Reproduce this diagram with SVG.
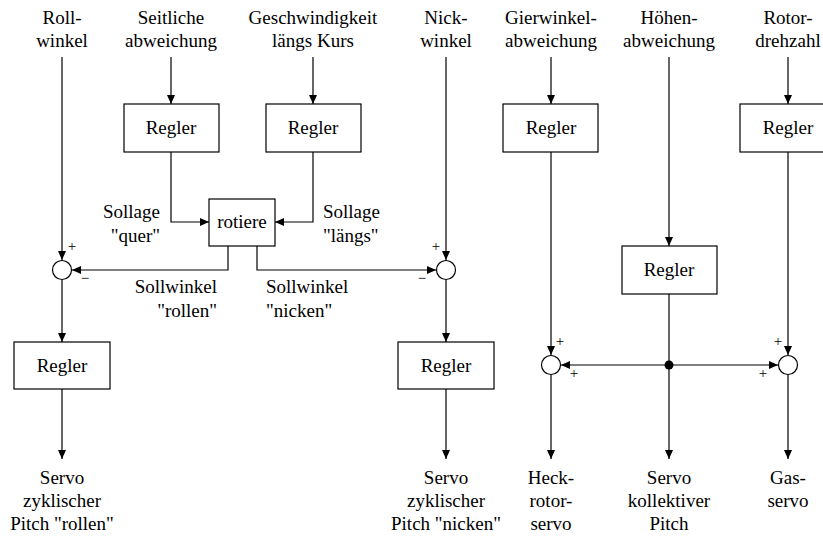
<svg xmlns="http://www.w3.org/2000/svg" width="823" height="536" viewBox="0 0 823 536">
<style>
text{font-family:"Liberation Serif","Times New Roman",serif;font-size:19px;fill:#000}
.c{text-anchor:middle}
.e{text-anchor:end}
.s{font-size:15px;text-anchor:middle}
.box{fill:#fff;stroke:#000;stroke-width:1.2}
.sum{fill:#fff;stroke:#000;stroke-width:1.2}
.ln{fill:none;stroke:#000;stroke-width:1.2}
</style>
<defs>
<marker id="arr" markerUnits="userSpaceOnUse" markerWidth="9" markerHeight="8" refX="9" refY="4" orient="auto">
<path d="M0,0 L9,4 L0,8 z" fill="#000"/>
</marker>
</defs>
<rect width="823" height="536" fill="#fff"/>

<g id="connectors">
<path class="ln" d="M62,57 V260" marker-end="url(#arr)"/>
<path class="ln" d="M171,57 V104" marker-end="url(#arr)"/>
<path class="ln" d="M313,57 V104" marker-end="url(#arr)"/>
<path class="ln" d="M446,57 V260" marker-end="url(#arr)"/>
<path class="ln" d="M551,57 V104" marker-end="url(#arr)"/>
<path class="ln" d="M669,57 V246" marker-end="url(#arr)"/>
<path class="ln" d="M788,57 V104" marker-end="url(#arr)"/>
<path class="ln" d="M171,152 V222 H209" marker-end="url(#arr)"/>
<path class="ln" d="M313,152 V222 H275" marker-end="url(#arr)"/>
<path class="ln" d="M228,246 V270 H72" marker-end="url(#arr)"/>
<path class="ln" d="M257,246 V270 H436" marker-end="url(#arr)"/>
<path class="ln" d="M62,280 V342" marker-end="url(#arr)"/>
<path class="ln" d="M446,280 V342" marker-end="url(#arr)"/>
<path class="ln" d="M62,389 V459" marker-end="url(#arr)"/>
<path class="ln" d="M446,389 V459" marker-end="url(#arr)"/>
<path class="ln" d="M551,152 V355" marker-end="url(#arr)"/>
<path class="ln" d="M788,152 V355" marker-end="url(#arr)"/>
<path class="ln" d="M669,294 V459" marker-end="url(#arr)"/>
<path class="ln" d="M669,365 H561" marker-end="url(#arr)"/>
<path class="ln" d="M669,365 H778" marker-end="url(#arr)"/>
<path class="ln" d="M551,375 V459" marker-end="url(#arr)"/>
<path class="ln" d="M788,375 V459" marker-end="url(#arr)"/>
<circle cx="669" cy="365" r="4.5" fill="#000"/>
</g>

<g id="in-roll"><text class="c" x="62" y="24">Roll-</text><text class="c" x="62" y="47">winkel</text></g>
<g id="in-seit"><text class="c" x="171" y="24">Seitliche</text><text class="c" x="171" y="47">abweichung</text></g>
<g id="in-geschw"><text class="c" x="313" y="24">Geschwindigkeit</text><text class="c" x="313" y="47">längs Kurs</text></g>
<g id="in-nick"><text class="c" x="446" y="24">Nick-</text><text class="c" x="446" y="47">winkel</text></g>
<g id="in-gier"><text class="c" x="551" y="24">Gierwinkel-</text><text class="c" x="551" y="47">abweichung</text></g>
<g id="in-hoehe"><text class="c" x="669" y="24">Höhen-</text><text class="c" x="669" y="47">abweichung</text></g>
<g id="in-rotor"><text class="c" x="788" y="24">Rotor-</text><text class="c" x="788" y="47">drehzahl</text></g>

<g id="regler-seit"><rect class="box" x="124" y="104" width="95" height="48"/><text class="c" x="171" y="134">Regler</text></g>
<g id="regler-geschw"><rect class="box" x="266" y="104" width="95" height="48"/><text class="c" x="313" y="134">Regler</text></g>
<g id="regler-gier"><rect class="box" x="503" y="104" width="95" height="48"/><text class="c" x="551" y="134">Regler</text></g>
<g id="regler-rotor"><rect class="box" x="740" y="104" width="95" height="48"/><text class="c" x="788" y="134">Regler</text></g>

<g id="rotiere"><rect class="box" x="209" y="199" width="66" height="47"/><text class="c" x="242" y="228">rotiere</text></g>
<g id="lbl-quer"><text class="e" x="160" y="218">Sollage</text><text class="e" x="160" y="242">"quer"</text></g>
<g id="lbl-laengs"><text x="323" y="218">Sollage</text><text x="323" y="242">"längs"</text></g>
<g id="lbl-rollen"><text class="e" x="217" y="293">Sollwinkel</text><text class="e" x="217" y="317">"rollen"</text></g>
<g id="lbl-nicken"><text x="266" y="293">Sollwinkel</text><text x="266" y="317">"nicken"</text></g>

<g id="sum-roll"><circle class="sum" cx="62" cy="270" r="9.5"/><text class="s" x="72" y="251">+</text><text class="s" x="85" y="283">−</text></g>
<g id="sum-nick"><circle class="sum" cx="446" cy="270" r="9.5"/><text class="s" x="436" y="251">+</text><text class="s" x="422" y="283">−</text></g>

<g id="regler-hoehe"><rect class="box" x="622" y="246" width="95" height="48"/><text class="c" x="669" y="276">Regler</text></g>

<g id="regler-roll"><rect class="box" x="14" y="342" width="96" height="47"/><text class="c" x="62" y="372">Regler</text></g>
<g id="regler-nick"><rect class="box" x="398" y="342" width="96" height="47"/><text class="c" x="446" y="372">Regler</text></g>

<g id="sum-gier"><circle class="sum" cx="551" cy="365" r="9.5"/><text class="s" x="560" y="346">+</text><text class="s" x="574" y="378">+</text></g>
<g id="sum-rotor"><circle class="sum" cx="788" cy="365" r="9.5"/><text class="s" x="778" y="346">+</text><text class="s" x="763" y="378">+</text></g>

<g id="out-roll"><text class="c" x="62" y="484">Servo</text><text class="c" x="62" y="507">zyklischer</text><text class="c" x="62" y="530">Pitch "rollen"</text></g>
<g id="out-nick"><text class="c" x="446" y="484">Servo</text><text class="c" x="446" y="507">zyklischer</text><text class="c" x="446" y="530">Pitch "nicken"</text></g>
<g id="out-heck"><text class="c" x="551" y="484">Heck-</text><text class="c" x="551" y="507">rotor-</text><text class="c" x="551" y="530">servo</text></g>
<g id="out-koll"><text class="c" x="669" y="484">Servo</text><text class="c" x="669" y="507">kollektiver</text><text class="c" x="669" y="530">Pitch</text></g>
<g id="out-gas"><text class="c" x="788" y="484">Gas-</text><text class="c" x="788" y="507">servo</text></g>
</svg>
